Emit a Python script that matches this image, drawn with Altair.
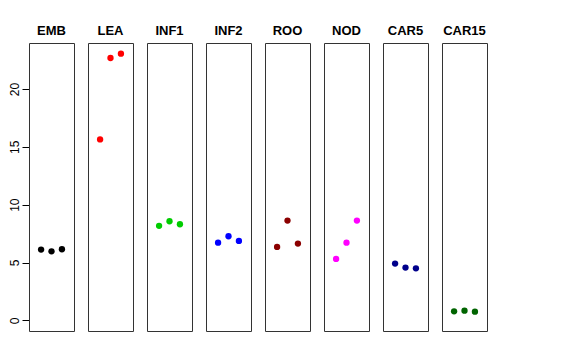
import altair as alt
import pandas as pd

tissues = ["EMB", "LEA", "INF1", "INF2", "ROO", "NOD", "CAR5", "CAR15"]
colors = ["#000000", "#FF0000", "#00CD00", "#0000FF", "#8B0000", "#FF00FF", "#00008B", "#006400"]
rep = [1, 2, 3]
emb = [6.12, 5.97, 6.15]
lea = [15.64, 22.68, 23.06]
inf1 = [8.17, 8.57, 8.31]
inf2 = [6.72, 7.27, 6.87]
roo = [6.35, 8.63, 6.64]
nod = [5.31, 6.72, 8.63]
car5 = [4.91, 4.56, 4.50]
car15 = [0.78, 0.84, 0.75]

series = [emb, lea, inf1, inf2, roo, nod, car5, car15]
rows = []
for t, vals in zip(tissues, series):
    for r, v in zip(rep, vals):
        rows.append({"tissue": t, "rep": r, "value": v})
df = pd.DataFrame(rows)

chart = alt.Chart(df).mark_circle(size=40, opacity=1).encode(
    x=alt.X("rep:Q", axis=None, scale=alt.Scale(domain=[-0.16, 4.16], nice=False, zero=False)),
    y=alt.Y("value:Q", title=None,
            scale=alt.Scale(domain=[-0.92, 23.98], nice=False, zero=False),
            axis=alt.Axis(values=[0, 5, 10, 15, 20], grid=False, domain=False,
                          tickSize=7, tickColor="#000000", labelAngle=270,
                          labelAlign="center", labelBaseline="alphabetic",
                          labelPadding=4, labelFontSize=12, labelColor="#000000",
                          labelFont="Liberation Sans", maxExtent=21, minExtent=21)),
    color=alt.Color("tissue:N", scale=alt.Scale(domain=tissues, range=colors), legend=None),
).properties(width=45, height=288).facet(
    column=alt.Column("tissue:N", sort=tissues, title=None,
                      header=alt.Header(labelFontWeight="bold", labelFontSize=13,
                                        labelFont="Liberation Sans", labelColor="#000000",
                                        labelPadding=5)),
    spacing=14,
    bounds="flush",
).configure_view(stroke="#333333", strokeWidth=1).properties(
    padding={"left": 0, "top": 17, "right": 5, "bottom": 5}
)

chart.save("out.html", embed_options={"renderer": "svg", "actions": False})
